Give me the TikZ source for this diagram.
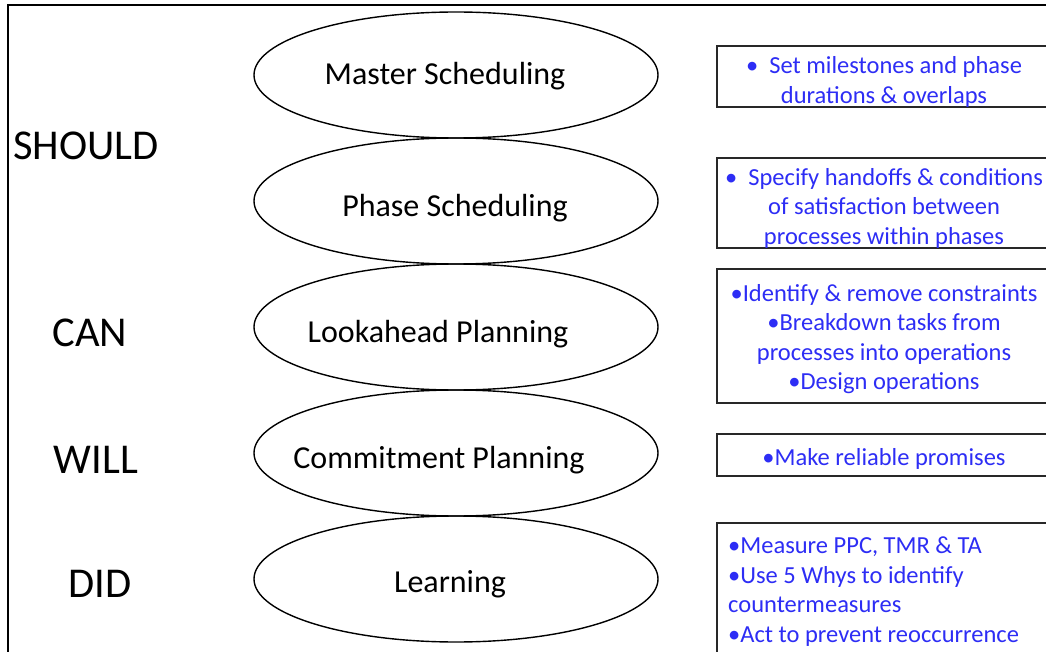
\documentclass[tikz,border=0pt]{standalone}
\usepackage{fontspec}
\setmainfont{Carlito}
\usetikzlibrary{shapes.geometric}
\definecolor{txtblue}{RGB}{45,45,245}
\definecolor{boxline}{RGB}{40,40,40}
\tikzset{
  stage/.style={ellipse, draw=black, line width=1.4pt, inner sep=0pt,
    minimum width=404pt, minimum height=126pt},
  stagetext/.style={anchor=base, inner sep=0pt, font=\fontsize{32}{37}\selectfont},
  modal/.style={anchor=base, inner sep=0pt, font=\fontsize{42.5}{48}\selectfont},
  infobox/.style={draw=boxline, line width=1.6pt, anchor=north west, inner sep=0pt,
    minimum width=345pt},
  infotext/.style={inner sep=0pt, text=txtblue, font=\fontsize{24.5}{29.5}\selectfont},
}
\begin{document}
\begin{tikzpicture}[x=1pt,y=-1pt]
\useasboundingbox (0,0) rectangle (1046,652);
\clip (0,0) rectangle (1046,652);
\fill[white] (0,0) rectangle (1046,652);
% frame
\draw[line width=1.5pt, black] (8,700) -- (8,5) -- (1100,5);
% ellipses
\node[stage] (e1) at (456,75) {};
\node[stage] (e2) at (456,201) {};
\node[stage] (e3) at (456,327) {};
\node[stage] (e4) at (456,453) {};
\node[stage] (e5) at (456,579) {};
\node[stagetext] (t1) at (445,85) {Master Scheduling};
\node[stagetext] (t2) at (455,217) {Phase Scheduling};
\node[stagetext] (t3) at (438,342) {Lookahead Planning};
\node[stagetext] (t4) at (439,468) {Commitment Planning};
\node[stagetext] (t5) at (450,592) {Learning};
% modal labels
\node[modal] (should) at (86,160) {SHOULD};
\node[modal] (can) at (90,346) {CAN};
\node[modal] (will) at (96,473) {WILL};
\node[modal] (did) at (100,597) {DID};
% boxes
\node[infobox, minimum height=61pt] (b1) at (716,45) {};
\node[infobox, minimum height=90pt] (b2) at (716,157) {};
\node[infobox, minimum height=134pt] (b3) at (716,268) {};
\node[infobox, minimum height=42pt] (b4) at (716,433) {};
\node[infobox, minimum height=200pt] (b5) at (716,522) {};
\node[infotext, align=center] (bt1) at (884,82) {•\ \ Set milestones and phase\\durations \& overlaps};
\node[infotext, align=center] (bt2) at (884,208) {•\ \ Specify handoffs \& conditions\\of satisfaction between\\processes within phases};
\node[infotext, align=center] (bt3) at (884,339) {•Identify \& remove constraints\\•Breakdown tasks from\\processes into operations\\•Design operations};
\node[infotext, align=center] (bt4) at (884,459) {•Make reliable promises};
\node[infotext, align=left, anchor=west] (bt5) at (728,591.5) {•Measure PPC, TMR \& TA\\•Use 5 Whys to identify\\countermeasures\\•Act to prevent reoccurrence};
\end{tikzpicture}
\end{document}
